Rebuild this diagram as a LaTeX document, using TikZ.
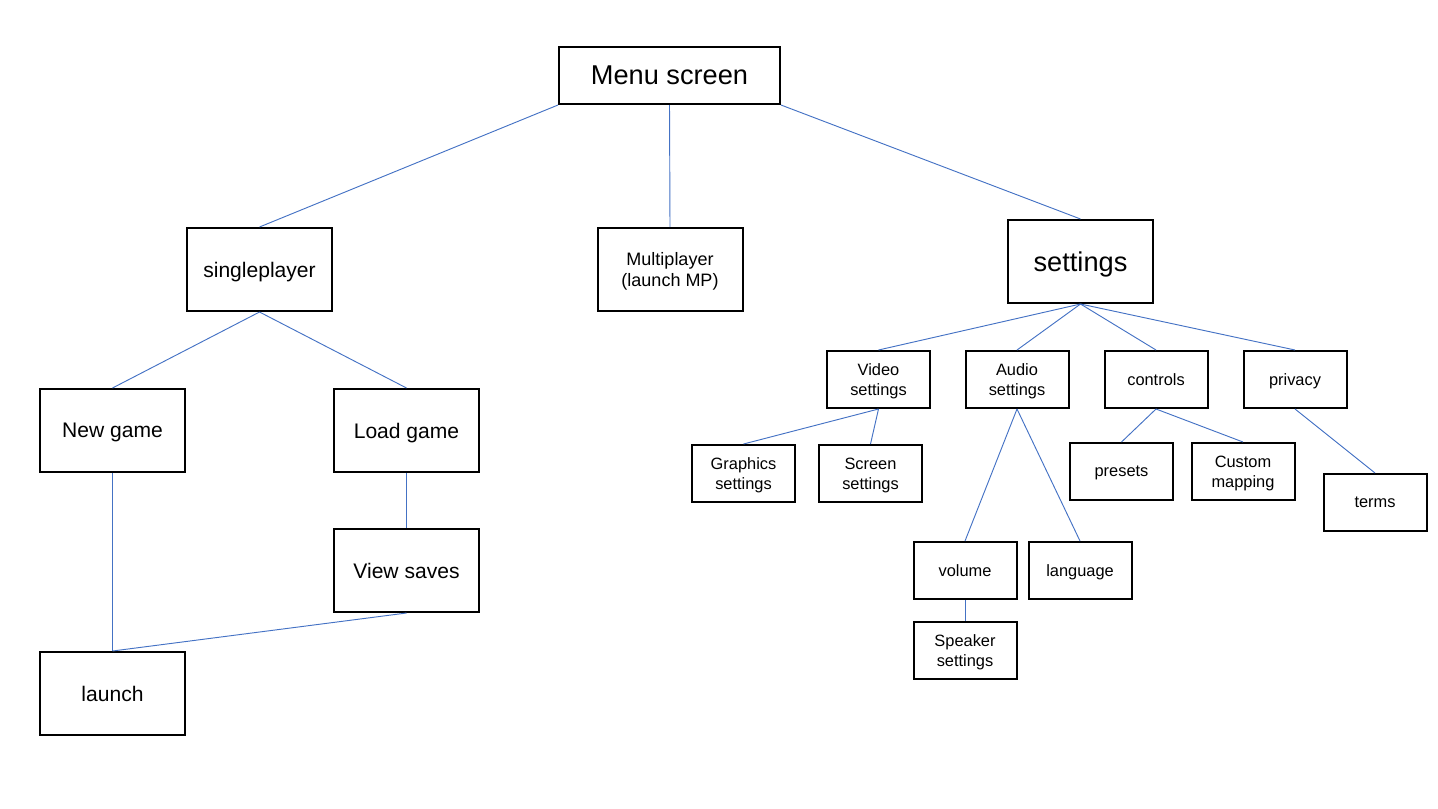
\documentclass[tikz,border=0pt]{standalone}
\usepackage{fontspec}
\setmainfont{Liberation Sans}
\definecolor{linkblue}{RGB}{68,114,196}

\begin{document}
\begin{tikzpicture}[x=0.75pt, y=-0.75pt,
    bigbox/.style={draw, line width=1.5pt, inner sep=0pt, text depth=0pt, minimum width=165.75pt, minimum height=42.75pt, font=\fontsize{20.4}{24}\selectfont},
    midbox/.style={draw, line width=1.5pt, inner sep=0pt, text depth=0pt, minimum width=108.75pt, minimum height=62.25pt, font=\fontsize{15.8}{19}\selectfont},
    smallbox/.style={draw, line width=1.5pt, inner sep=0pt, text depth=0pt, minimum width=77.25pt, minimum height=42.75pt, align=center, font=\fontsize{12.3}{15}\selectfont},
    link/.style={draw=linkblue, line width=0.7pt}]
    \useasboundingbox (0, 0) rectangle (1438, 808);
    %% Boxes
    \node[bigbox] (menu) at (669.5, 75.5) {Menu screen};
    \node[midbox] (single) at (259.5, 269.5) {singleplayer};
    \node[midbox, align=center, font=\fontsize{13.5}{16}\selectfont]
        (multi) at (670, 269.5) {Multiplayer\\(launch MP)};
    \node[midbox, font=\fontsize{20.4}{24}\selectfont] (settings) at (1080.5, 261.5) {settings};
    \node[midbox] (newgame) at (112.5, 430.5) {New game};
    \node[midbox] (loadgame) at (406.5, 430.5) {Load game};
    \node[midbox] (viewsaves) at (406.5, 570.5) {View saves};
    \node[midbox] (launch) at (112.5, 693.5) {launch};
    \node[smallbox] (video) at (878.5, 379.5) {Video\\settings};
    \node[smallbox] (audio) at (1017, 379.5) {Audio\\settings};
    \node[smallbox] (controls) at (1156, 379.5) {controls};
    \node[smallbox] (privacy) at (1295, 379.5) {privacy};
    \node[smallbox] (graphics) at (743.5, 473.5) {Graphics\\settings};
    \node[smallbox] (screen) at (870.5, 473.5) {Screen\\settings};
    \node[smallbox] (presets) at (1121.5, 471.5) {presets};
    \node[smallbox] (custom) at (1243, 471.5) {Custom\\mapping};
    \node[smallbox] (terms) at (1375, 502.5) {terms};
    \node[smallbox] (volume) at (965, 570.5) {volume};
    \node[smallbox] (language) at (1080, 570.5) {language};
    \node[smallbox] (speaker) at (965, 650.5) {Speaker\\settings};
    %% Links
    \draw[link] (menu.south west) -- (single.north);
    \draw[link] (menu.south) -- (multi.north);
    \draw[link] (menu.south east) -- (settings.north);
    \draw[link] (single.south) -- (newgame.north);
    \draw[link] (single.south) -- (loadgame.north);
    \draw[link] (newgame.south) -- (launch.north);
    \draw[link] (loadgame.south) -- (viewsaves.north);
    \draw[link] (viewsaves.south) -- (launch.north);
    \draw[link] (settings.south) -- (video.north);
    \draw[link] (settings.south) -- (audio.north);
    \draw[link] (settings.south) -- (controls.north);
    \draw[link] (settings.south) -- (privacy.north);
    \draw[link] (video.south) -- (graphics.north);
    \draw[link] (video.south) -- (screen.north);
    \draw[link] (audio.south) -- (volume.north);
    \draw[link] (audio.south) -- (language.north);
    \draw[link] (controls.south) -- (presets.north);
    \draw[link] (controls.south) -- (custom.north);
    \draw[link] (privacy.south) -- (terms.north);
    \draw[link] (volume.south) -- (speaker.north);
\end{tikzpicture}
\end{document}
